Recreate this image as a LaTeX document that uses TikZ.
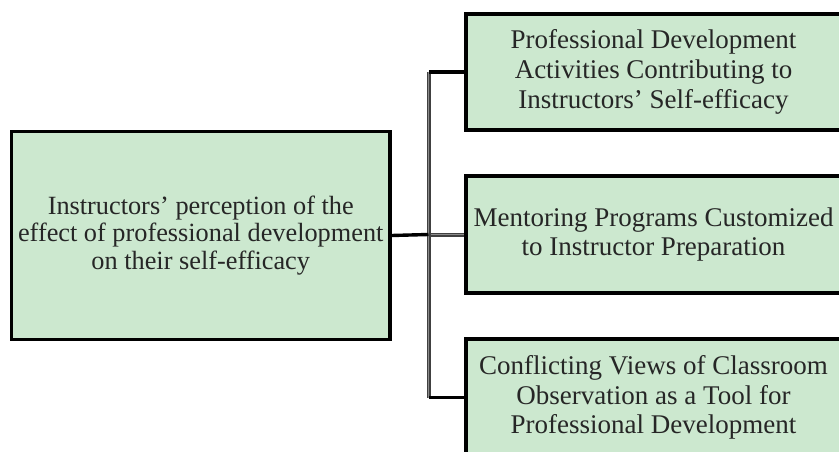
\documentclass[tikz,border=0pt]{standalone}
\usepackage{fontspec}
\setmainfont{Liberation Serif}
\usetikzlibrary{calc}
\definecolor{boxgreen}{RGB}{204,232,207}
\tikzset{
	themebox/.style={draw=black, line width=3.6pt, fill=boxgreen, align=center, text=black!85, inner sep=0pt},
	link/.style={line width=3.4pt, color=black},
	trunkline/.style={line width=1.2pt, color=black!75, double=black!45, double distance=1.6pt}
}

\begin{document}
\begin{tikzpicture}[x=1pt, y=-1pt]
		%%%%% START %%%%%
		
		\clip (0, 0) rectangle (839, 452);
		\fill[white] (0, 0) rectangle (839, 452);
		
		\node[themebox, minimum width=378.5pt, minimum height=208pt, font=\fontsize{26.3}{27.5}\selectfont] (percep) at (200.75, 235.5)
			{Instructors' perception of the\\effect of professional development\\on their self-efficacy};
		
		\node[themebox, minimum width=375pt, minimum height=116pt, font=\fontsize{27}{30}\selectfont] (activ) at (653.5, 72)
			{Professional Development\\Activities Contributing to\\Instructors' Self-efficacy};
		\node[themebox, minimum width=375pt, minimum height=117pt, font=\fontsize{27}{29.5}\selectfont] (mentor) at (653.5, 234.5)
			{Mentoring Programs Customized\\to Instructor Preparation};
		\node[themebox, minimum width=375pt, minimum height=117pt, font=\fontsize{27}{29.5}\selectfont] (observ) at (653.5, 397.5)
			{Conflicting Views of Classroom\\Observation as a Tool for\\Professional Development};
		
		\coordinate (trunk) at (428.5, 234.5);
		
		\draw[trunkline] (trunk) -- (mentor.west);
		\draw[trunkline] (trunk |- activ.west) -- (trunk |- observ.west);
		\draw[link] (activ.west) -- (trunk |- activ.west);
		\draw[link] (observ.west) -- (trunk |- observ.west);
		\draw[link] (percep.east) -- (trunk);
		
		%%%%% END %%%%%
	\end{tikzpicture}
\end{document}
